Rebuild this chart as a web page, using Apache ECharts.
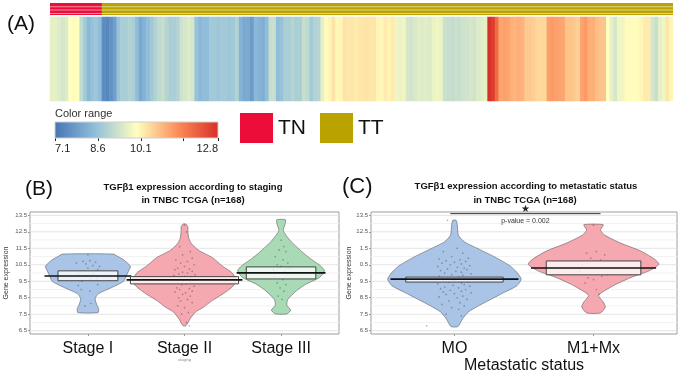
<!DOCTYPE html>
<html>
<head>
<meta charset="utf-8">
<title>TGFβ1 expression in TNBC TCGA</title>
<script src="https://cdn.jsdelivr.net/npm/echarts@6.0.0/dist/echarts.min.js"></script>
<style>
  html, body { margin: 0; padding: 0; background: #fff; }
  #chart { width: 685px; height: 377px; }
</style>
</head>
<body>
<div id="chart"></div>
<script>
// panel A: one value per sample, left to right
const heatValues = [
  9.62, 9.62, 9.5, 9.4, 9.5, 9.95, 10.0, 9.95, 9.12, 8.75, 8.4, 8.6, 8.68, 8.5,
  7.55, 7.45, 7.65, 7.9, 8.6, 8.85, 8.85, 8.95, 8.85, 8.5,
  8.1, 8.3, 8.5, 8.75, 8.95, 9.12, 9.22, 9.0, 8.85, 8.85,
  8.95, 9.3, 9.4, 9.5, 9.4, 8.6, 8.4, 8.5,
  8.5, 8.75, 8.75, 8.68, 8.75, 8.75, 8.68, 8.75, 8.95, 8.3,
  8.1, 8.1, 7.85, 8.4, 8.3, 8.2, 8.5, 9.22, 9.22, 8.5,
  8.6, 8.85, 8.85, 9.0, 8.85, 8.85, 9.22, 9.12, 8.75, 8.95,
  9.0, 9.62, 10.0, 10.08, 10.3, 10.05, 10.08, 10.3, 10.26, 10.26,
  10.2, 10.26,
  10.26, 10.3, 10.26, 10.26, 10.08, 10.05, 10.2, 10.1, 10.2, 9.75,
  9.68, 9.75, 9.4, 9.35, 9.45, 9.56, 9.5, 9.56, 9.5, 9.68,
  9.75, 9.68, 9.26, 9.22, 9.17, 9.26, 9.22, 9.3, 9.35, 9.4,
  9.35, 9.5, 9.56, 9.62, 12.8, 12.6, 11.9, 11.1, 11.15, 11.1,
  10.95, 10.9, 10.95,
  10.9, 10.63, 10.63, 10.55, 10.45, 10.45, 10.45, 11.15, 11.22, 11.15,
  11.1, 11.05, 10.7, 10.7, 10.63, 10.55, 11.1, 11.22, 10.95, 10.95,
  10.78, 10.7, 10.7, 9.95, 9.62, 9.4, 9.75, 9.75, 10.0, 10.0,
  9.97, 10.0, 10.08, 10.2, 10.2, 9.4, 9.22, 9.62, 9.75, 10.26,
  10.08
];
const groupNames = ['TN', 'TT'];
const groupSizes = [14, 154];
const groupColors = ['#ec0d38', '#baa300'];

const colorRange = ['#4575b4', '#91bfdb', '#ffffbf', '#fc8d59', '#d73027'];
const colorMin = 7.1;
const colorMax = 12.8;
const colorTicks = [7.1, 8.6, 10.1, 11.6, 12.8];
const colorLabels = [7.1, 8.6, 10.1, 12.8];

// panels B and C
const exprTicks = [6.5, 7.5, 8.5, 9.5, 10.5, 11.5, 12.5, 13.5];
const stageTickLabels = ['6.5', '7.5', '8.5', '9.5', '10.5', '11.5', '12.5', '13.5'];
const metTickLabels = ['6.5', '7.5', '8.5', '9.5', '0.5', '1.5', '12.5', '13.5'];
const gridMajor = [6.5, 7.5, 8.5, 9.5, 10.5, 11.5, 12.5, 13.5];
const gridMinor = [7, 8, 9, 10, 11, 12, 13];

const stageNames = ['Stage I', 'Stage II', 'Stage III'];
const stageColors = ['#a9c4e6', '#f5a8af', '#a9dab6'];
// violin outline: [expression, half width]
const stageViolins = [
  [[7.6, 0.105], [7.85, 0.11], [8.1, 0.09], [8.45, 0.075], [8.75, 0.11], [9.1, 0.24],
   [9.5, 0.37], [10.0, 0.41], [10.4, 0.44], [10.8, 0.37], [11.0, 0.31], [11.15, 0.26]],
  [[6.8, 0.015], [7.24, 0.06], [7.64, 0.115], [7.94, 0.2], [8.34, 0.29], [8.74, 0.4],
   [9.13, 0.49], [9.54, 0.54], [10.03, 0.49], [10.43, 0.39], [10.93, 0.29], [11.4, 0.14],
   [11.8, 0.07], [12.1, 0.045], [12.5, 0.035], [12.8, 0.035], [12.97, 0.015]],
  [[7.52, 0.06], [7.75, 0.1], [8.05, 0.06], [8.4, 0.07], [8.93, 0.16], [9.33, 0.26],
   [9.73, 0.4], [10.13, 0.45], [10.43, 0.41], [10.93, 0.29], [11.43, 0.19], [11.9, 0.105],
   [12.3, 0.05], [12.6, 0.022], [12.93, 0.04], [13.23, 0.045]]
];
const stageBoxLo = [9.53, 9.34, 9.64];
const stageBoxHi = [10.13, 9.78, 10.37];
const stageMean = [9.82, 9.58, 10.01];
const stageBoxHalf = [0.31, 0.56, 0.36];
const stageLineHalf = [0.45, 0.6, 0.46];
// jittered points: [offset from group centre, expression]
const stagePoints = [
  [[0.0, 11.1], [0.02, 10.75], [-0.05, 10.7], [0.08, 10.65], [-0.12, 10.6], [-0.02, 10.55],
   [0.05, 10.45], [0.12, 10.4], [0.0, 10.3], [0.1, 10.2], [-0.08, 10.05], [0.06, 9.95],
   [-0.11, 9.9], [-0.02, 9.8], [0.09, 9.7], [0.03, 9.6], [-0.06, 9.5], [0.1, 9.3],
   [-0.1, 9.25], [-0.07, 9.0], [0.02, 8.9], [0.03, 8.15], [-0.03, 8.0]],
  [[0.0, 12.9], [0.02, 12.5], [-0.05, 11.6], [0.06, 11.3], [-0.02, 11.1], [0.08, 10.9],
   [-0.09, 10.8], [0.03, 10.7], [-0.04, 10.6], [0.1, 10.5], [0.0, 10.4], [-0.07, 10.3],
   [0.05, 10.25], [-0.1, 10.2], [0.08, 10.1], [-0.02, 10.05], [0.03, 10.0], [-0.06, 9.95],
   [0.11, 9.9], [-0.11, 9.85], [0.0, 9.8], [0.07, 9.75], [-0.04, 9.7], [0.04, 9.65],
   [-0.09, 9.6], [0.09, 9.55], [-0.01, 9.5], [0.06, 9.45], [-0.07, 9.4], [0.02, 9.35],
   [-0.03, 9.3], [0.1, 9.2], [-0.08, 9.1], [0.05, 9.05], [-0.05, 9.0], [0.08, 8.9],
   [-0.1, 8.85], [0.01, 8.8], [-0.02, 8.7], [0.06, 8.6], [-0.06, 8.5], [0.03, 8.4],
   [-0.04, 8.3], [0.08, 8.2], [-0.07, 8.0], [0.0, 7.9], [0.04, 7.6], [-0.03, 7.5],
   [0.02, 7.0], [0.05, 6.8]],
  [[0.0, 12.0], [0.03, 11.6], [-0.02, 11.4], [0.05, 11.3], [-0.06, 11.0], [0.02, 10.8],
   [0.07, 10.6], [-0.04, 10.5], [0.0, 10.4], [0.09, 10.3], [-0.08, 10.2], [0.04, 10.1],
   [-0.02, 10.0], [0.06, 9.9], [-0.07, 9.8], [0.02, 9.6], [-0.04, 9.4], [0.05, 9.3],
   [-0.01, 9.1], [0.03, 8.9], [-0.03, 8.6], [0.01, 8.4]]
];

const metNames = ['MO', 'M1+Mx'];
const metColors = ['#a9c4e6', '#f5a8af'];
const metViolins = [
  [[6.75, 0.025], [7.24, 0.06], [7.64, 0.1], [8.04, 0.18], [8.44, 0.27], [8.83, 0.36],
   [9.23, 0.45], [9.63, 0.48], [10.03, 0.45], [10.43, 0.4], [10.93, 0.3], [11.43, 0.18],
   [11.9, 0.07], [12.3, 0.028], [12.93, 0.02], [13.2, 0.012]],
  [[7.58, 0.05], [7.94, 0.085], [8.24, 0.07], [8.64, 0.035], [8.93, 0.08], [9.33, 0.165],
   [9.73, 0.27], [10.13, 0.4], [10.53, 0.47], [10.83, 0.44], [11.33, 0.34], [11.83, 0.19],
   [12.3, 0.08], [12.6, 0.05], [12.93, 0.07]]
];
const metBoxLo = [9.45, 9.89];
const metBoxHi = [9.75, 10.73];
const metMean = [9.63, 10.3];
const metBoxHalf = [0.35, 0.34];
const metLineHalf = [0.46, 0.45];
const metPoints = [
  [[-0.05, 13.2], [0.02, 11.5], [-0.08, 11.3], [0.06, 11.2], [-0.02, 11.0], [0.1, 10.9],
   [-0.11, 10.85], [0.04, 10.8], [-0.06, 10.75], [0.08, 10.7], [0.0, 10.65], [-0.09, 10.6],
   [0.05, 10.55], [-0.03, 10.5], [0.11, 10.45], [-0.12, 10.4], [0.02, 10.35], [0.07, 10.3],
   [-0.05, 10.25], [0.09, 10.2], [-0.1, 10.15], [0.01, 10.1], [0.05, 10.05], [-0.07, 10.0],
   [0.12, 9.95], [-0.02, 9.9], [0.06, 9.85], [-0.11, 9.8], [0.03, 9.75], [-0.05, 9.7],
   [0.09, 9.65], [-0.08, 9.6], [0.0, 9.55], [0.1, 9.5], [-0.04, 9.45], [0.05, 9.4],
   [-0.12, 9.35], [0.07, 9.3], [-0.01, 9.25], [0.11, 9.2], [-0.07, 9.15], [0.03, 9.1],
   [-0.1, 9.05], [0.08, 9.0], [-0.03, 8.95], [0.05, 8.9], [-0.08, 8.85], [0.12, 8.8],
   [0.0, 8.75], [-0.06, 8.7], [0.06, 8.6], [-0.11, 8.55], [0.02, 8.5], [0.09, 8.4],
   [-0.04, 8.3], [0.04, 8.2], [-0.09, 8.1], [0.07, 8.0], [-0.02, 7.9], [0.03, 7.8],
   [-0.06, 7.5], [0.05, 7.4], [-0.2, 6.8]],
  [[0.0, 12.9], [0.02, 11.3], [-0.05, 11.2], [0.08, 11.1], [-0.02, 10.9], [0.05, 10.8],
   [-0.08, 10.5], [0.03, 10.3], [-0.1, 10.1], [0.1, 9.9], [0.06, 9.8], [-0.04, 9.7],
   [0.0, 9.6], [-0.06, 9.4], [0.02, 9.0], [0.04, 8.7]]
];
// significance bar: [from, to, height]
const sigBar = [0.97, 2.05, 13.6];
const sigText = 'p-value = 0.002';

const FONT = '"Liberation Sans", Arial, sans-serif';
const chart = echarts.init(document.getElementById('chart'));

function violinRender(profiles, colors) {
  return function (params, api) {
    const g = params.dataIndex;
    const cx = api.value(0);
    const prof = profiles[g];
    const left = prof.map((p) => api.coord([cx - p[1], p[0]]));
    const right = prof.map((p) => api.coord([cx + p[1], p[0]])).reverse();
    return {
      type: 'polygon',
      shape: { points: left.concat(right), smooth: 0.2 },
      style: { fill: colors[g], stroke: 'rgba(70,70,70,0.7)', lineWidth: 0.7 }
    };
  };
}

function boxRender(params, api) {
  const x = api.value(0);
  const lo = api.value(1);
  const hi = api.value(2);
  const bh = api.value(3);
  const md = api.value(4);
  const lh = api.value(5);
  const a = api.coord([x - bh, hi]);
  const b = api.coord([x + bh, lo]);
  const l1 = api.coord([x - lh, md]);
  const l2 = api.coord([x + lh, md]);
  return {
    type: 'group',
    children: [
      {
        type: 'rect',
        shape: { x: a[0], y: a[1], width: b[0] - a[0], height: b[1] - a[1] },
        style: { fill: 'rgba(255,255,255,0.78)', stroke: '#444', lineWidth: 1 }
      },
      {
        type: 'line',
        shape: { x1: l1[0], y1: l1[1], x2: l2[0], y2: l2[1] },
        style: { stroke: '#111', lineWidth: 1.6 }
      }
    ]
  };
}

function gridLineRender(color) {
  return function (params, api) {
    const y = api.coord([1, api.value(0)])[1];
    const cs = params.coordSys;
    return {
      type: 'line',
      shape: { x1: cs.x, y1: y, x2: cs.x + cs.width, y2: y },
      style: { stroke: color, lineWidth: 1 }
    };
  };
}

function groupBarRender(params, api) {
  const tl = api.coord([api.value(0), 1]);
  const br = api.coord([api.value(1), 0]);
  const w = br[0] - tl[0];
  const h = br[1] - tl[1];
  const children = [
    { type: 'rect', shape: { x: tl[0], y: tl[1], width: w, height: h }, style: { fill: api.visual('color') } }
  ];
  [0.27, 0.55, 0.83].forEach((f) => {
    children.push({
      type: 'rect',
      shape: { x: tl[0], y: tl[1] + h * f, width: w, height: 1 },
      style: { fill: 'rgba(255,255,255,0.55)' }
    });
  });
  return { type: 'group', children: children };
}

function colorBarRender(params, api) {
  const tl = api.coord([api.value(0), 1]);
  const br = api.coord([api.value(1), 0]);
  const stops = colorRange.map((c, i) => ({ offset: i / (colorRange.length - 1), color: c }));
  return {
    type: 'rect',
    shape: { x: tl[0], y: tl[1], width: br[0] - tl[0], height: br[1] - tl[1] },
    style: { fill: new echarts.graphic.LinearGradient(0, 0, 1, 0, stops), stroke: '#cfcfcf', lineWidth: 1 }
  };
}

function sigRender(params, api) {
  const a = api.coord([api.value(0), api.value(2)]);
  const b = api.coord([api.value(1), api.value(2)]);
  const mid = (a[0] + b[0]) / 2;
  return {
    type: 'group',
    children: [
      { type: 'line', shape: { x1: a[0], y1: a[1], x2: b[0], y2: b[1] }, style: { stroke: '#333', lineWidth: 1 } },
      { type: 'text', style: { text: '★', x: mid, y: a[1] - 4, fill: '#222', font: '10px ' + FONT, align: 'center', verticalAlign: 'middle' } },
      { type: 'text', style: { text: sigText, x: mid, y: a[1] + 7, fill: '#333', font: '7px ' + FONT, align: 'center', verticalAlign: 'middle' } }
    ]
  };
}

function exprAxis(gridIndex, labels, nameGap) {
  return {
    type: 'value',
    gridIndex: gridIndex,
    min: 6.3,
    max: 13.7,
    name: 'Gene expression',
    nameLocation: 'middle',
    nameGap: nameGap,
    nameTextStyle: { fontSize: 7, color: '#333', fontFamily: FONT },
    axisLine: { show: false },
    axisTick: { show: true, customValues: exprTicks, length: 2, lineStyle: { color: '#999' } },
    axisLabel: {
      customValues: exprTicks,
      formatter: (v) => labels[Math.round(v - 6.5)],
      fontSize: 6,
      color: '#555',
      margin: 3,
      fontFamily: FONT
    },
    splitLine: { show: false }
  };
}

function groupAxis(gridIndex, names, name, nameSize, nameGap) {
  const pos = names.map((n, i) => i + 1);
  return {
    type: 'value',
    gridIndex: gridIndex,
    min: 0.4,
    max: names.length + 0.6,
    name: name,
    nameLocation: 'middle',
    nameGap: nameGap,
    nameTextStyle: { fontSize: nameSize, color: nameSize < 8 ? '#888' : '#111', fontFamily: FONT },
    axisLine: { show: false },
    axisTick: { show: true, customValues: pos, length: 2, lineStyle: { color: '#999' } },
    axisLabel: {
      customValues: pos,
      formatter: (v) => names[Math.round(v) - 1],
      fontSize: 16,
      color: '#111',
      margin: 7,
      fontFamily: FONT
    },
    splitLine: { show: false }
  };
}

function panelSeries(axisIndex, names, violins, colors, boxLo, boxHi, means, boxHalf, lineHalf, points) {
  const centres = names.map((n, i) => [i + 1, means[i]]);
  const pts = [];
  points.forEach((grp, g) => grp.forEach((p) => pts.push([g + 1 + p[0], p[1]])));
  return [
    { type: 'custom', xAxisIndex: axisIndex, yAxisIndex: axisIndex, renderItem: gridLineRender('#f2f2f2'),
      data: gridMinor.map((v) => [v]), encode: { y: 0 }, silent: true, z: 1 },
    { type: 'custom', xAxisIndex: axisIndex, yAxisIndex: axisIndex, renderItem: gridLineRender('#e3e3e3'),
      data: gridMajor.map((v) => [v]), encode: { y: 0 }, silent: true, z: 1 },
    { type: 'custom', xAxisIndex: axisIndex, yAxisIndex: axisIndex, renderItem: violinRender(violins, colors),
      data: centres, encode: { x: 0, y: 1 }, silent: true, z: 2 },
    { type: 'scatter', xAxisIndex: axisIndex, yAxisIndex: axisIndex, data: pts, symbolSize: 1.7,
      itemStyle: { color: 'rgba(60,60,60,0.5)' }, silent: true, z: 3 },
    { type: 'custom', xAxisIndex: axisIndex, yAxisIndex: axisIndex, renderItem: boxRender,
      data: names.map((n, i) => [i + 1, boxLo[i], boxHi[i], boxHalf[i], means[i], lineHalf[i]]),
      encode: { x: 0, y: [1, 2] }, silent: true, z: 4 }
  ];
}

const sampleIdx = heatValues.map((v, i) => i);
const textStyle = (size, weight) => ({ font: (weight || 'normal') + ' ' + size + 'px ' + FONT, fill: '#111' });

chart.setOption({
  animation: false,
  backgroundColor: '#fff',
  grid: [
    { left: 50, top: 3, width: 623, height: 12 },
    { left: 50, top: 17, width: 623, height: 84 },
    { left: 55, top: 122, width: 163, height: 16 },
    { left: 30, top: 212, width: 309, height: 122, show: true, borderColor: '#9d9d9d', borderWidth: 1 },
    { left: 371, top: 212, width: 306, height: 122, show: true, borderColor: '#9d9d9d', borderWidth: 1 }
  ],
  xAxis: [
    { type: 'value', gridIndex: 0, min: 0, max: heatValues.length, show: false },
    { type: 'category', gridIndex: 1, data: sampleIdx, show: false },
    {
      type: 'value', gridIndex: 2, min: colorMin, max: colorMax,
      axisLine: { show: false },
      axisTick: { show: true, customValues: colorTicks, length: 3, lineStyle: { color: '#222' } },
      axisLabel: { customValues: colorLabels, fontSize: 11, color: '#222', margin: 5, fontFamily: FONT,
        alignMinLabel: 'left', alignMaxLabel: 'right' },
      splitLine: { show: false }
    },
    groupAxis(3, stageNames, 'staging', 4, 21),
    groupAxis(4, metNames, 'Metastatic status', 16, 21)
  ],
  yAxis: [
    { type: 'value', gridIndex: 0, min: 0, max: 1, show: false },
    { type: 'category', gridIndex: 1, data: ['TGFB1'], show: false },
    { type: 'value', gridIndex: 2, min: 0, max: 1, show: false },
    exprAxis(3, stageTickLabels, 20),
    exprAxis(4, metTickLabels, 17)
  ],
  visualMap: {
    type: 'continuous', show: false, seriesIndex: 0, dimension: 2,
    min: colorMin, max: colorMax, inRange: { color: colorRange }
  },
  legend: {
    data: groupNames, left: 240, top: 113, padding: 0, itemWidth: 33, itemHeight: 30, itemGap: 14,
    icon: 'rect', selectedMode: false,
    textStyle: { fontSize: 21, color: '#111', fontFamily: FONT }
  },
  graphic: [
    { type: 'text', x: 7, y: 24, style: Object.assign(textStyle(21), { text: '(A)', verticalAlign: 'middle' }) },
    { type: 'text', x: 25, y: 189, style: Object.assign(textStyle(21), { text: '(B)', verticalAlign: 'middle' }) },
    { type: 'text', x: 342, y: 187, style: Object.assign(textStyle(22), { text: '(C)', verticalAlign: 'middle' }) },
    { type: 'text', x: 55, y: 114, style: Object.assign(textStyle(11), { text: 'Color range', fill: '#333', verticalAlign: 'middle' }) },
    { type: 'text', x: 193, y: 187, style: Object.assign(textStyle(9.5, 'bold'), { text: 'TGFβ1 expression according to staging', align: 'center', verticalAlign: 'middle' }) },
    { type: 'text', x: 193, y: 200, style: Object.assign(textStyle(9.5, 'bold'), { text: 'in TNBC TCGA (n=168)', align: 'center', verticalAlign: 'middle' }) },
    { type: 'text', x: 526, y: 186, style: Object.assign(textStyle(9.5, 'bold'), { text: 'TGFβ1 expression according to metastatic status', align: 'center', verticalAlign: 'middle' }) },
    { type: 'text', x: 525, y: 200, style: Object.assign(textStyle(9.5, 'bold'), { text: 'in TNBC TCGA (n=168)', align: 'center', verticalAlign: 'middle' }) }
  ],
  series: [
    {
      type: 'heatmap', xAxisIndex: 1, yAxisIndex: 1,
      data: heatValues.map((v, i) => [i, 0, v]),
      itemStyle: { borderWidth: 0 }, emphasis: { disabled: true }, silent: true
    },
    { type: 'custom', name: groupNames[0], xAxisIndex: 0, yAxisIndex: 0, renderItem: groupBarRender,
      itemStyle: { color: groupColors[0] }, data: [[0, groupSizes[0]]], encode: { x: [0, 1] }, silent: true },
    { type: 'custom', name: groupNames[1], xAxisIndex: 0, yAxisIndex: 0, renderItem: groupBarRender,
      itemStyle: { color: groupColors[1] }, data: [[groupSizes[0], groupSizes[0] + groupSizes[1]]], encode: { x: [0, 1] }, silent: true },
    { type: 'custom', xAxisIndex: 2, yAxisIndex: 2, renderItem: colorBarRender,
      data: [[colorMin, colorMax]], encode: { x: [0, 1] }, silent: true },
    ...panelSeries(3, stageNames, stageViolins, stageColors, stageBoxLo, stageBoxHi, stageMean, stageBoxHalf, stageLineHalf, stagePoints),
    ...panelSeries(4, metNames, metViolins, metColors, metBoxLo, metBoxHi, metMean, metBoxHalf, metLineHalf, metPoints),
    { type: 'custom', xAxisIndex: 4, yAxisIndex: 4, renderItem: sigRender,
      data: [sigBar], encode: { x: [0, 1], y: 2 }, silent: true, z: 5 }
  ]
});
</script>
</body>
</html>
